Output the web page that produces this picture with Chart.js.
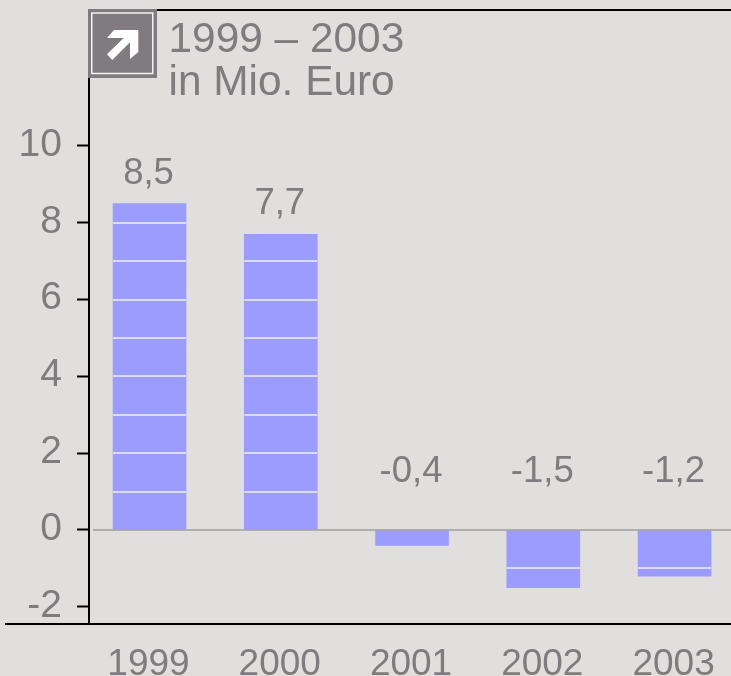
<!DOCTYPE html>
<html><head><meta charset="utf-8">
<style>html,body{margin:0;padding:0;background:#e0dfdd;overflow:hidden}canvas{display:block}</style>
<script src="https://cdn.jsdelivr.net/npm/chart.js@4"></script>
</head><body><canvas id="c" width="731" height="676"></canvas>
<script>
const years = [1999, 2000, 2001, 2002, 2003];
const values = [8.5, 7.7, -0.4, -1.5, -1.2];
const valueLabels = ['8,5', '7,7', '-0,4', '-1,5', '-1,2'];
const yTicks = [-2, 0, 2, 4, 6, 8, 10];
const titleLines = ['1999 – 2003', 'in Mio. Euro'];

const TEXT = '#7f7b7f', BAR = '#9c9cff', BG = '#e0dfdd', FONT = '"Liberation Sans", Arial, sans-serif';

const furniture = {
  id: 'furniture',
  beforeDraw(chart) {
    const { ctx, width, height } = chart;
    ctx.save(); ctx.fillStyle = BG; ctx.fillRect(0, 0, width, height); ctx.restore();
  },
  afterDatasetsDraw(chart) {
    const { ctx, scales: { y } } = chart;
    const meta = chart.getDatasetMeta(0);
    ctx.save();
    // lines across the bars at every whole unit
    ctx.strokeStyle = '#dcdcf0'; ctx.lineWidth = 2;
    meta.data.forEach((bar, i) => {
      const v = values[i], dir = Math.sign(v);
      for (let k = dir; Math.abs(k) < Math.abs(v); k += dir) {
        const py = Math.round(y.getPixelForValue(k));
        ctx.beginPath(); ctx.moveTo(bar.x - bar.width / 2, py); ctx.lineTo(bar.x + bar.width / 2, py); ctx.stroke();
      }
    });
    // zero line
    const y0 = y.getPixelForValue(0);
    ctx.strokeStyle = '#a09e9e'; ctx.lineWidth = 1.5;
    ctx.beginPath(); ctx.moveTo(93, y0); ctx.lineTo(731, y0); ctx.stroke();
    // frame
    ctx.strokeStyle = '#000'; ctx.lineWidth = 2;
    ctx.beginPath(); ctx.moveTo(89, 76); ctx.lineTo(89, 624); ctx.stroke();
    ctx.beginPath(); ctx.moveTo(157, 10); ctx.lineTo(731, 10); ctx.stroke();
    ctx.beginPath(); ctx.moveTo(5, 624); ctx.lineTo(731, 624); ctx.stroke();
    // value labels
    ctx.fillStyle = TEXT; ctx.font = '36.5px ' + FONT; ctx.textAlign = 'center'; ctx.textBaseline = 'alphabetic';
    meta.data.forEach((bar, i) => {
      const ly = values[i] >= 0 ? bar.y - 20 : y0 - 48;
      ctx.fillText(valueLabels[i], bar.x - 1, ly);
    });
    // heading
    ctx.font = '42.4px ' + FONT; ctx.textAlign = 'left';
    ctx.fillText(titleLines[0], 168.5, 52);
    ctx.fillText(titleLines[1], 168.5, 95);
    // icon
    ctx.fillStyle = TEXT; ctx.fillRect(88, 9, 69, 69);
    ctx.strokeStyle = '#f4f4f4'; ctx.lineWidth = 1.5; ctx.strokeRect(91.75, 13, 61, 60.5);
    ctx.fillStyle = '#fff';
    ctx.beginPath();
    ctx.moveTo(107, 54.3); ctx.lineTo(123.7, 38); ctx.lineTo(107, 38); ctx.lineTo(114, 30);
    ctx.lineTo(138.3, 30); ctx.lineTo(138.3, 52); ctx.lineTo(130, 59); ctx.lineTo(130, 42.3);
    ctx.lineTo(112.3, 60); ctx.closePath(); ctx.fill();
    ctx.restore();
  }
};

const noPadding = s => { s.paddingTop = 0; s.paddingBottom = 0; s.paddingLeft = 0; s.paddingRight = 0; };

new Chart(document.getElementById('c'), {
  type: 'bar',
  data: { labels: years, datasets: [{ data: values, backgroundColor: BAR, barThickness: 73, borderWidth: 0 }] },
  plugins: [furniture],
  options: {
    responsive: false, animation: false,
    layout: { padding: { top: 10, left: 0, right: 0, bottom: 0 } },
    plugins: { legend: { display: false }, title: { display: false }, tooltip: { enabled: false } },
    scales: {
      x: {
        type: 'linear', offset: false, min: 1998.539, max: 2003.43,
        afterBuildTicks(s) { s.ticks = years.map(v => ({ value: v })); },
        afterFit(s) { s.height = 52; noPadding(s); },
        grid: { display: false, drawTicks: false },
        border: { display: false },
        ticks: { color: TEXT, font: { size: 37, family: FONT }, padding: 19, labelOffset: -1, autoSkip: false, maxRotation: 0, callback: v => String(v) }
      },
      y: {
        type: 'linear', min: -2.448, max: 13.54,
        afterBuildTicks(s) { s.ticks = yTicks.map(v => ({ value: v })); },
        afterFit(s) { s.width = 89; noPadding(s); },
        grid: { drawOnChartArea: false, drawTicks: true, tickLength: 12, tickColor: '#000', tickWidth: 2 },
        border: { display: false },
        ticks: { color: TEXT, font: { size: 39, family: FONT }, padding: 15, labelOffset: -1, callback: v => String(v) }
      }
    }
  }
});
</script></body></html>
